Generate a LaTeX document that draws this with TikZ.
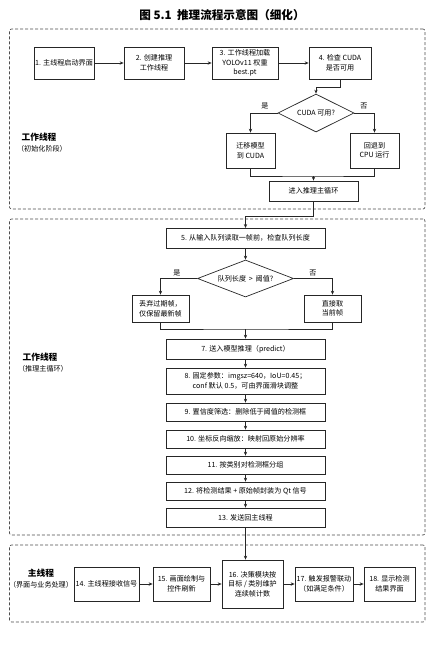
\documentclass[tikz,border=0pt]{standalone}
\usepackage{fontspec}
\setmainfont{Noto Sans CJK SC}
\usetikzlibrary{arrows.meta,shapes.geometric}
\begin{document}
\begin{tikzpicture}[x=1pt,y=-1pt,
  box/.style={draw=black!85, line width=0.7pt, align=center, font=\fontsize{7.1}{9.6}\selectfont, inner sep=0pt},
  dia/.style={draw=black!85, line width=0.7pt, shape=diamond, shape aspect=2.5, inner sep=0pt, align=center, font=\fontsize{7.1}{9}\selectfont},
  conn/.style={line width=0.7pt, draw=black!85},
  arr/.style={conn, -{Stealth[length=4pt,width=3.4pt]}},
  cluster/.style={draw=black!70, line width=0.65pt, dash pattern=on 3pt off 2pt, rounded corners=2pt, inner sep=0pt},
  lane/.style={font=\bfseries\fontsize{8.7}{10}\selectfont},
  lanesub/.style={font=\fontsize{7.1}{9}\selectfont},
  lbl/.style={font=\fontsize{7.1}{9}\selectfont}
]
\useasboundingbox (0,0) rectangle (436,654);

% title
\node[font=\bfseries\fontsize{11.6}{13}\selectfont] (title) at (222,15) {图 5.1\ \ 推理流程示意图（细化）};

% clusters
\node[cluster, minimum width=415.5pt, minimum height=180pt] (cl1) at (217.25,119) {};
\node[cluster, minimum width=415.5pt, minimum height=316pt] (cl2) at (217.25,377) {};
\node[cluster, minimum width=415.5pt, minimum height=77pt] (cl3) at (217.25,583.5) {};

% lane labels
\node[lane] (l1a) at (39,137) {工作线程};
\node[lanesub] (l1b) at (42,149) {（初始化阶段）};
\node[lane] (l2a) at (40,357) {工作线程};
\node[lanesub] (l2b) at (43,369) {（推理主循环）};
\node[lane] (l3a) at (41,573) {主线程};
\node[lanesub] (l3b) at (41,585) {（界面与业务处理）};

% stage 1
\node[box, minimum width=60pt, minimum height=32pt] (b1) at (64,63) {1. 主线程启动界面};
\node[box, minimum width=60pt, minimum height=32pt] (b2) at (154,63) {2. 创建推理\\工作线程};
\node[box, minimum width=66pt, minimum height=32pt] (b3) at (245,63) {3. 工作线程加载\\YOLOv11 权重\\best.pt};
\node[box, minimum width=62pt, minimum height=32pt] (b4) at (340,63) {4. 检查 CUDA\\是否可用};
\node[dia, minimum width=76pt, minimum height=38pt] (d1) at (316,113) {CUDA 可用?};
\node[box, minimum width=49pt, minimum height=35pt] (c1) at (250.5,150.5) {迁移模型\\到 CUDA};
\node[box, minimum width=49pt, minimum height=35pt] (c2) at (374.5,150.5) {回退到\\CPU 运行};
\node[box, minimum width=89pt, minimum height=20pt] (e) at (313.5,191) {进入推理主循环};
\node[lbl] (yes1) at (265,106) {是};
\node[lbl] (no1) at (364,106) {否};

\draw[arr] (b1) -- (b2);
\draw[arr] (b2) -- (b3);
\draw[arr] (b3) -- (b4);
\draw[arr] (b4.south) -- ++(0,8) -| (d1.north);
\draw[arr] (d1.west) -| (c1.north);
\draw[arr] (d1.east) -| (c2.north);
\coordinate (m1) at (313.5,176);
\draw[conn] (c1.south) |- (m1) -| (c2.south);
\draw[arr] (m1) -- (e.north);
\coordinate (j1) at (313.5,216);
\draw[arr] (e.south) -- (j1) -| (245.5,228);

% stage 2
\node[box, minimum width=159pt, minimum height=20pt] (b5) at (245.5,238) {5. 从输入队列读取一帧前，检查队列长度};
\node[dia, minimum width=96pt, minimum height=37pt] (d2) at (245.5,278.5) {队列长度 \,>\, 阈值?};
\node[box, minimum width=57pt, minimum height=27pt] (f1) at (160.5,308.5) {丢弃过期帧，\\仅保留最新帧};
\node[box, minimum width=57pt, minimum height=27pt] (f2) at (332.5,308.5) {直接取\\当前帧};
\node[lbl] (yes2) at (177,273) {是};
\node[lbl] (no2) at (313,273) {否};
\node[box, minimum width=159pt, minimum height=20pt] (b7) at (245.5,349) {7. 送入模型推理（predict）};
\node[box, minimum width=159pt, minimum height=26pt] (b8) at (245.5,381) {8. 固定参数：imgsz=640，IoU=0.45；\\conf 默认 0.5，可由界面滑块调整};
\node[box, minimum width=159pt, minimum height=18pt] (b9) at (245.5,412) {9. 置信度筛选：删除低于阈值的检测框};
\node[box, minimum width=159pt, minimum height=18pt] (b10) at (245.5,439) {10. 坐标反向缩放：映射回原始分辨率};
\node[box, minimum width=159pt, minimum height=18pt] (b11) at (245.5,465) {11. 按类别对检测框分组};
\node[box, minimum width=159pt, minimum height=18pt] (b12) at (245.5,491) {12. 将检测结果 + 原始帧封装为 Qt 信号};
\node[box, minimum width=159pt, minimum height=19pt] (b13) at (245.5,517.5) {13. 发送回主线程};

\draw[arr] (b5) -- (d2);
\draw[arr] (d2.west) -| (f1.north);
\draw[arr] (d2.east) -| (f2.north);
\coordinate (m2) at (245.5,329);
\draw[conn] (f1.south) |- (m2) -| (f2.south);
\draw[arr] (m2) -- (b7.north);
\draw[arr] (b7) -- (b8);
\draw[arr] (b8) -- (b9);
\draw[arr] (b9) -- (b10);
\draw[arr] (b10) -- (b11);
\draw[arr] (b11) -- (b12);
\draw[arr] (b12) -- (b13);

% stage 3
\node[box, minimum width=65pt, minimum height=34pt] (b14) at (106.5,584) {14. 主线程接收信号};
\node[box, minimum width=57pt, minimum height=34pt] (b15) at (181.5,584) {15. 画面绘制与\\控件刷新};
\node[box, minimum width=61pt, minimum height=48pt] (b16) at (252.5,584) {16. 决策模块按\\目标 / 类别维护\\连续帧计数};
\node[box, minimum width=58pt, minimum height=34pt] (b17) at (324,584) {17. 触发报警联动\\（如满足条件）};
\node[box, minimum width=51pt, minimum height=34pt] (b18) at (389.5,584) {18. 显示检测\\结果界面};

\draw[arr] (b13.south) -- (b13.south |- b16.north);
\draw[arr] (b14) -- (b15);
\draw[arr] (b15) -- (b16);
\draw[arr] (b16) -- (b17);
\draw[arr] (b17) -- (b18);
\end{tikzpicture}
\end{document}
